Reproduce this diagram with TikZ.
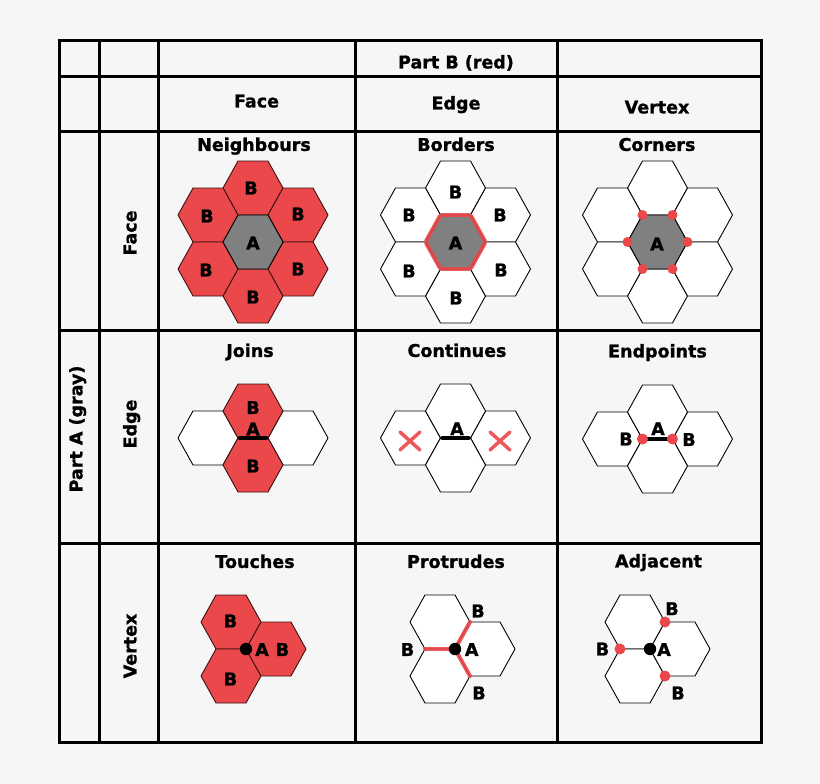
\documentclass[tikz,border=0pt]{standalone}
\usepackage{fontspec}
\setmainfont{DejaVu Sans}[BoldFeatures={FakeBold=1.2}]
\definecolor{bg}{RGB}{246,246,246}
\definecolor{hred}{RGB}{234,72,74}
\definecolor{hgray}{RGB}{128,128,128}
\newcommand\hexat[3]{\draw[#3] ({#1+30},{#2}) -- ++(-15,27) -- ++(-30,0) -- ++(-15,-27) -- ++(15,-27) -- ++(30,0) -- cycle;}
\newcommand\redborder[2]{%
  \draw[redline] ({#1+30},{#2}) -- ({#1+15},{#2+27});
  \draw[redline] ({#1+15},{#2+27}) -- ({#1-15},{#2+27});
  \draw[redline] ({#1-15},{#2+27}) -- ({#1-30},{#2});
  \draw[redline] ({#1-30},{#2}) -- ({#1-15},{#2-27});
  \draw[redline] ({#1-15},{#2-27}) -- ({#1+15},{#2-27});
  \draw[redline] ({#1+15},{#2-27}) -- ({#1+30},{#2});}
\newcommand\cornerdots[2]{%
  \fill[hred] ({#1+30},{#2}) circle (5);
  \fill[hred] ({#1+15},{#2+27}) circle (5);
  \fill[hred] ({#1-15},{#2+27}) circle (5);
  \fill[hred] ({#1-30},{#2}) circle (5);
  \fill[hred] ({#1-15},{#2-27}) circle (5);
  \fill[hred] ({#1+15},{#2-27}) circle (5);}
\begin{document}
\begin{tikzpicture}[x=1pt,y=-1pt,
  gridline/.style={line width=3pt, line cap=rect},
  whex/.style={draw=black, fill=white, line width=0.9pt, line join=round},
  rhex/.style={draw=black!75!hred, fill=hred, line width=0.9pt, line join=round},
  ghex/.style={draw=black, fill=hgray, line width=0.9pt, line join=round},
  redline/.style={draw=hred, line width=4pt, line cap=round, shorten <=1.5pt, shorten >=1.5pt, opacity=0.9},
  redspoke/.style={draw=hred, line width=4pt, line cap=round, opacity=0.9},
  blackedge/.style={draw=black, line width=4.5pt, line cap=round},
  xmark/.style={draw=hred, line width=3.5pt, line cap=round, opacity=0.9},
  lab/.style={font=\fontsize{17.5}{20}\selectfont\bfseries, inner sep=0pt, text height=12.8pt, text depth=0pt, anchor=center},
  rlab/.style={lab, rotate=90}]
\fill[bg] (0,0) rectangle (820,784);
\useasboundingbox (0,0) rectangle (820,784);
% grid
\foreach \x in {59,99,158,355,557,761} \draw[gridline] (\x,41) -- (\x,742);
\foreach \y in {41,77,131,330,543,742} \draw[gridline] (59,\y) -- (761,\y);
% headers
\node[lab] (hpartb) at (456,62) {Part B (red)};
\node[lab] (hface) at (256.5,101) {Face};
\node[lab] (hedge) at (456,103) {Edge};
\node[lab] (hvertex) at (657,107) {Vertex};
\node[rlab] (rparta) at (76,429) {Part A (gray)};
\node[rlab] (rface) at (130,233) {Face};
\node[rlab] (redge) at (130,424) {Edge};
\node[rlab] (rvertex) at (130,646) {Vertex};
% cell titles
\node[lab] (tneigh) at (254,144.5) {Neighbours};
\node[lab] (tborders) at (456,144.5) {Borders};
\node[lab] (tcorners) at (657,144.5) {Corners};
\node[lab] (tjoins) at (250,350.5) {Joins};
\node[lab] (tcont) at (457,350.5) {Continues};
\node[lab] (tendp) at (657.5,351) {Endpoints};
\node[lab] (ttouch) at (255,561.5) {Touches};
\node[lab] (tprot) at (456,561.5) {Protrudes};
\node[lab] (tadj) at (658.5,561) {Adjacent};
% ---- Neighbours
\hexat{253}{188}{rhex}\hexat{253}{296}{rhex}
\hexat{208}{215}{rhex}\hexat{298}{215}{rhex}
\hexat{208}{269}{rhex}\hexat{298}{269}{rhex}
\hexat{253}{242}{ghex}
\node[lab] (n1) at (251,188) {B};
\node[lab] (n2) at (253,297) {B};
\node[lab] (n3) at (207,216) {B};
\node[lab] (n4) at (298,214) {B};
\node[lab] (n5) at (206,270) {B};
\node[lab] (n6) at (298,269) {B};
\node[lab] (na) at (253,243) {A};
% ---- Borders
\hexat{455.5}{188}{whex}\hexat{455.5}{296}{whex}
\hexat{410.5}{215}{whex}\hexat{500.5}{215}{whex}
\hexat{410.5}{269}{whex}\hexat{500.5}{269}{whex}
\hexat{455.5}{242}{ghex}
\redborder{455.5}{242}
\node[lab] (b1) at (455.5,192) {B};
\node[lab] (b2) at (456,298) {B};
\node[lab] (b3) at (409,215) {B};
\node[lab] (b4) at (500,215) {B};
\node[lab] (b5) at (409,271) {B};
\node[lab] (b6) at (501,270) {B};
\node[lab] (ba) at (455.5,243) {A};
% ---- Corners
\hexat{657.5}{188}{whex}\hexat{657.5}{296}{whex}
\hexat{612.5}{215}{whex}\hexat{702.5}{215}{whex}
\hexat{612.5}{269}{whex}\hexat{702.5}{269}{whex}
\hexat{657.5}{242}{ghex}
\cornerdots{657.5}{242}
\node[lab] (ca) at (657,244) {A};
% ---- Joins
\hexat{208}{438}{whex}\hexat{298}{438}{whex}
\hexat{253}{411}{rhex}\hexat{253}{465}{rhex}
\coordinate (je1) at (238,438);
\coordinate (je2) at (268,438);
\draw[blackedge, shorten <=2pt, shorten >=2pt] (je1) -- (je2);
\node[lab] (j1) at (253,407.5) {B};
\node[lab] (ja) at (253,429) {A};
\node[lab] (j2) at (253,466) {B};
% ---- Continues
\hexat{410.5}{438}{whex}\hexat{500.5}{438}{whex}
\hexat{455.5}{411}{whex}\hexat{455.5}{465}{whex}
\coordinate (ce1) at (440.5,438);
\coordinate (ce2) at (470.5,438);
\draw[blackedge, shorten <=2pt, shorten >=2pt] (ce1) -- (ce2);
\node[lab] (coa) at (457,428.7) {A};
\draw[xmark] (400,432) -- (420,450) (400,450) -- (420,432);
\draw[xmark] (490,432) -- (510,450) (490,450) -- (510,432);
% ---- Endpoints
\hexat{612.5}{439}{whex}\hexat{702.5}{439}{whex}
\hexat{657.5}{412}{whex}\hexat{657.5}{466}{whex}
\coordinate (ee1) at (642.5,439);
\coordinate (ee2) at (672.5,439);
\draw[draw=black, line width=3.5pt] (ee1) -- (ee2);
\fill[hred] (ee1) circle (5.5);
\fill[hred] (ee2) circle (5.5);
\node[lab] (eb1) at (626,439) {B};
\node[lab] (ea) at (658,428.7) {A};
\node[lab] (eb2) at (689,439.5) {B};
% ---- Touches
\hexat{231}{622}{rhex}\hexat{231}{676}{rhex}\hexat{276}{649}{rhex}
\coordinate (tv) at (246,649);
\fill[black] (tv) circle (6.2);
\node[lab] (tb1) at (230.5,621) {B};
\node[lab] (tb2) at (230.5,679) {B};
\node[lab] (ta) at (262,649.5) {A};
\node[lab] (tb3) at (282.5,649.5) {B};
% ---- Protrudes
\hexat{440}{622}{whex}\hexat{440}{676}{whex}\hexat{485}{649}{whex}
\coordinate (pv) at (455,649);
\coordinate (pl) at (425,649);
\coordinate (pu) at (470,622);
\coordinate (pd) at (470,676);
\draw[redspoke] (pv) -- (pl);
\draw[redspoke] (pv) -- (pu);
\draw[redspoke] (pv) -- (pd);
\fill[black] (pv) circle (6.2);
\node[lab] (pb1) at (478,611) {B};
\node[lab] (pb2) at (407.5,649.5) {B};
\node[lab] (pa) at (471.7,649.5) {A};
\node[lab] (pb3) at (479,693) {B};
% ---- Adjacent
\hexat{635}{622}{whex}\hexat{635}{676}{whex}\hexat{680}{649}{whex}
\coordinate (av) at (650,649);
\fill[black] (av) circle (6.2);
\fill[hred] (620,649) circle (5.5);
\fill[hred] (665,622) circle (5.5);
\fill[hred] (665,676) circle (5.5);
\node[lab] (ab1) at (672,608.7) {B};
\node[lab] (ab2) at (602.5,649) {B};
\node[lab] (aa) at (664,649.5) {A};
\node[lab] (ab3) at (678,693) {B};
\end{tikzpicture}
\end{document}
